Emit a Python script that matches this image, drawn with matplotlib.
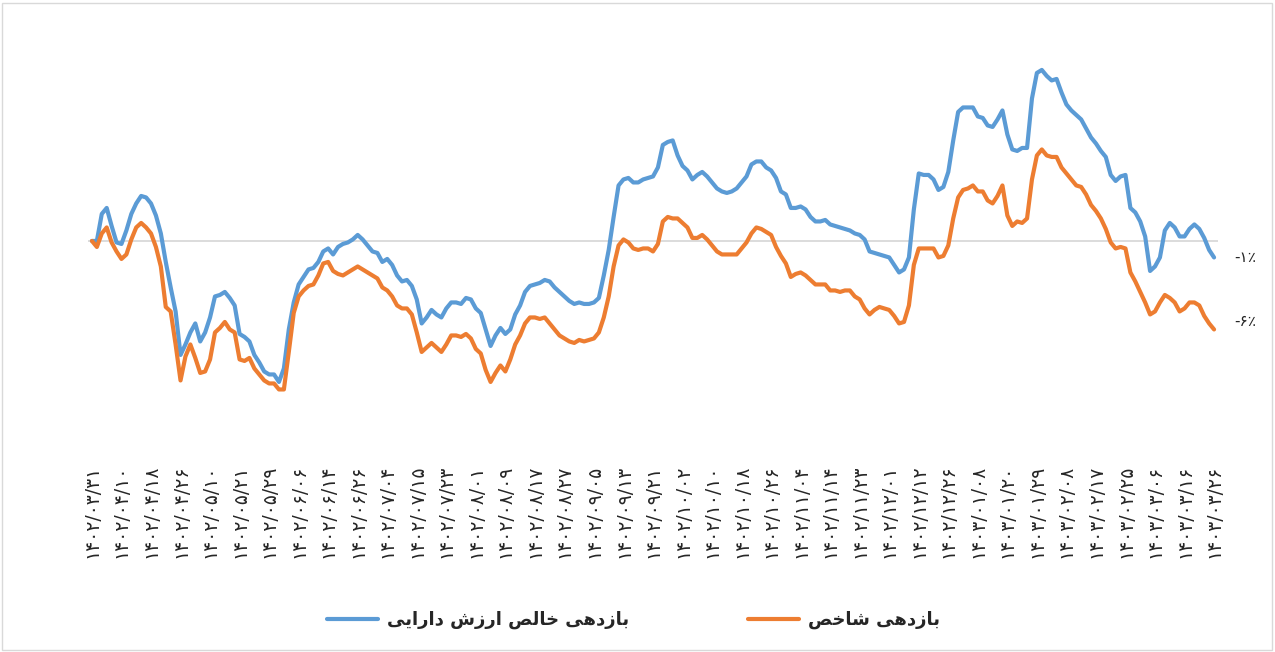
import matplotlib
matplotlib.use('Agg')
import matplotlib.pyplot as plt
from matplotlib.patches import Rectangle

# ---DATA--- (returns in percent, one value per trading day)
nav_return = [
    0.0, 0.0, 1.8, 2.2, 1.0, -0.1, -0.2, 0.7, 1.8, 2.5,
    3.0, 2.9, 2.5, 1.7, 0.5, -1.4, -3.1, -4.7, -7.6, -6.9,
    -6.1, -5.5, -6.7, -6.1, -5.1, -3.7, -3.6, -3.4, -3.8, -4.3,
    -6.2, -6.4, -6.7, -7.6, -8.1, -8.7, -8.9, -8.9, -9.4, -8.5,
    -5.9, -4.1, -2.9, -2.4, -1.9, -1.8, -1.4, -0.7, -0.5, -0.9,
    -0.4, -0.2, -0.1, 0.1, 0.4, 0.1, -0.3, -0.7, -0.8, -1.4,
    -1.2, -1.6, -2.3, -2.7, -2.6, -3.0, -3.9, -5.5, -5.1, -4.6,
    -4.9, -5.1, -4.5, -4.1, -4.1, -4.2, -3.8, -3.9, -4.5, -4.8,
    -5.9, -7.0, -6.3, -5.8, -6.2, -5.9, -4.9, -4.3, -3.4, -3.0,
    -2.9, -2.8, -2.6, -2.7, -3.1, -3.4, -3.7, -4.0, -4.2, -4.1,
    -4.2, -4.2, -4.1, -3.8, -2.3, -0.6, 1.6, 3.7, 4.1, 4.2,
    3.9, 3.9, 4.1, 4.2, 4.3, 4.9, 6.4, 6.6, 6.7, 5.7,
    5.0, 4.7, 4.1, 4.4, 4.6, 4.3, 3.9, 3.5, 3.3, 3.2,
    3.3, 3.5, 3.9, 4.3, 5.1, 5.3, 5.3, 4.9, 4.7, 4.2,
    3.3, 3.1, 2.2, 2.2, 2.3, 2.1, 1.6, 1.3, 1.3, 1.4,
    1.1, 1.0, 0.9, 0.8, 0.7, 0.5, 0.4, 0.1, -0.7, -0.8,
    -0.9, -1.0, -1.1, -1.6, -2.1, -1.9, -1.1, 2.1, 4.5, 4.4,
    4.4, 4.1, 3.4, 3.6, 4.6, 6.7, 8.6, 8.9, 8.9, 8.9,
    8.3, 8.2, 7.7, 7.6, 8.1, 8.7, 7.1, 6.1, 6.0, 6.2,
    6.2, 9.5, 11.2, 11.4, 11.0, 10.7, 10.8, 9.9, 9.1, 8.7,
    8.4, 8.1, 7.5, 6.9, 6.5, 6.0, 5.6, 4.4, 4.0, 4.3,
    4.4, 2.2, 1.9, 1.3, 0.3, -2.0, -1.7, -1.1, 0.7, 1.2,
    0.9, 0.3, 0.3, 0.8, 1.1, 0.8, 0.2, -0.6, -1.1,
]
index_return = [
    0.0, -0.4, 0.5, 0.9, -0.1, -0.7, -1.2, -0.9, 0.1, 0.9,
    1.2, 0.9, 0.5, -0.4, -1.7, -4.4, -4.7, -6.9, -9.3, -7.7,
    -6.9, -7.8, -8.8, -8.7, -7.9, -6.1, -5.8, -5.4, -5.9, -6.1,
    -7.9, -8.0, -7.8, -8.5, -8.9, -9.3, -9.5, -9.5, -9.9, -9.9,
    -7.4, -4.8, -3.7, -3.3, -3.0, -2.9, -2.3, -1.5, -1.4, -2.0,
    -2.2, -2.3, -2.1, -1.9, -1.7, -1.9, -2.1, -2.3, -2.5, -3.1,
    -3.3, -3.7, -4.3, -4.5, -4.5, -4.9, -6.1, -7.4, -7.1, -6.8,
    -7.1, -7.4, -6.9, -6.3, -6.3, -6.4, -6.2, -6.5, -7.2, -7.5,
    -8.6, -9.4, -8.8, -8.3, -8.7, -7.9, -6.9, -6.3, -5.5, -5.1,
    -5.1, -5.2, -5.1, -5.5, -5.9, -6.3, -6.5, -6.7, -6.8, -6.6,
    -6.7, -6.6, -6.5, -6.1, -5.1, -3.7, -1.7, -0.3, 0.1, -0.1,
    -0.5, -0.6, -0.5, -0.5, -0.7, -0.2, 1.3, 1.6, 1.5, 1.5,
    1.2, 0.9, 0.2, 0.2, 0.4, 0.1, -0.3, -0.7, -0.9, -0.9,
    -0.9, -0.9, -0.5, -0.1, 0.5, 0.9, 0.8, 0.6, 0.4, -0.4,
    -1.0, -1.5, -2.4, -2.2, -2.1, -2.3, -2.6, -2.9, -2.9, -2.9,
    -3.3, -3.3, -3.4, -3.3, -3.3, -3.7, -3.9, -4.5, -4.9, -4.6,
    -4.4, -4.5, -4.6, -5.0, -5.5, -5.4, -4.3, -1.6, -0.5, -0.5,
    -0.5, -0.5, -1.1, -1.0, -0.3, 1.5, 2.9, 3.4, 3.5, 3.7,
    3.3, 3.3, 2.7, 2.5, 3.0, 3.7, 1.7, 1.0, 1.3, 1.2,
    1.5, 4.1, 5.7, 6.1, 5.7, 5.6, 5.6, 4.9, 4.5, 4.1,
    3.7, 3.6, 3.1, 2.4, 2.0, 1.5, 0.8, -0.1, -0.5, -0.4,
    -0.5, -2.1, -2.7, -3.4, -4.1, -4.9, -4.7, -4.1, -3.6, -3.8,
    -4.1, -4.7, -4.5, -4.1, -4.1, -4.3, -5.0, -5.5, -5.9,
]
tick_labels = [
    '۱۴۰۲/۰۳/۳۱', '۱۴۰۲/۰۴/۱۰', '۱۴۰۲/۰۴/۱۸', '۱۴۰۲/۰۴/۲۶', '۱۴۰۲/۰۵/۱۰',
    '۱۴۰۲/۰۵/۲۱', '۱۴۰۲/۰۵/۲۹', '۱۴۰۲/۰۶/۰۶', '۱۴۰۲/۰۶/۱۴', '۱۴۰۲/۰۶/۲۶',
    '۱۴۰۲/۰۷/۰۴', '۱۴۰۲/۰۷/۱۵', '۱۴۰۲/۰۷/۲۳', '۱۴۰۲/۰۸/۰۱', '۱۴۰۲/۰۸/۰۹',
    '۱۴۰۲/۰۸/۱۷', '۱۴۰۲/۰۸/۲۷', '۱۴۰۲/۰۹/۰۵', '۱۴۰۲/۰۹/۱۳', '۱۴۰۲/۰۹/۲۱',
    '۱۴۰۲/۱۰/۰۲', '۱۴۰۲/۱۰/۱۰', '۱۴۰۲/۱۰/۱۸', '۱۴۰۲/۱۰/۲۶', '۱۴۰۲/۱۱/۰۴',
    '۱۴۰۲/۱۱/۱۴', '۱۴۰۲/۱۱/۲۳', '۱۴۰۲/۱۲/۰۱', '۱۴۰۲/۱۲/۱۲', '۱۴۰۲/۱۲/۲۶',
    '۱۴۰۳/۰۱/۰۸', '۱۴۰۳/۰۱/۲۰', '۱۴۰۳/۰۱/۲۹', '۱۴۰۳/۰۲/۰۸', '۱۴۰۳/۰۲/۱۷',
    '۱۴۰۳/۰۲/۲۵', '۱۴۰۳/۰۳/۰۶', '۱۴۰۳/۰۳/۱۶', '۱۴۰۳/۰۳/۲۶',
]
tick_step = 6
series_names = ['بازدهی خالص ارزش دارایی', 'بازدهی شاخص']
end_labels = ['-۱٪', '-۶٪']

# ---PERSIAN SHAPING--- (matplotlib draws no joined letters, so pick the forms by hand)
FORMS = {  # isolated, final, initial, medial
    'ا': ('\uFE8D', '\uFE8E', None, None),
    'ب': ('\uFE8F', '\uFE90', '\uFE91', '\uFE92'),
    'خ': ('\uFEA5', '\uFEA6', '\uFEA7', '\uFEA8'),
    'د': ('\uFEA9', '\uFEAA', None, None),
    'ر': ('\uFEAD', '\uFEAE', None, None),
    'ز': ('\uFEAF', '\uFEB0', None, None),
    'ش': ('\uFEB5', '\uFEB6', '\uFEB7', '\uFEB8'),
    'ص': ('\uFEB9', '\uFEBA', '\uFEBB', '\uFEBC'),
    'ل': ('\uFEDD', '\uFEDE', '\uFEDF', '\uFEE0'),
    'ه': ('\uFEE9', '\uFEEA', '\uFEEB', '\uFEEC'),
    'ی': ('\uFBFC', '\uFBFD', '\uFBFE', '\uFBFF'),
}

def shape_fa(text):
    out = []
    for i, ch in enumerate(text):
        if ch not in FORMS:
            out.append(ch)
            continue
        prev = text[i - 1] if i > 0 else ' '
        nxt = text[i + 1] if i + 1 < len(text) else ' '
        iso, fin, ini, med = FORMS[ch]
        join_prev = prev in FORMS and FORMS[prev][2] is not None
        join_next = nxt in FORMS and ini is not None
        if join_prev and join_next:
            out.append(med)
        elif join_prev:
            out.append(fin)
        elif join_next:
            out.append(ini)
        else:
            out.append(iso)
    return ''.join(reversed(out))

# ---PLOT---
W, H = 1275, 652
fig = plt.figure(figsize=(W / 100, H / 100), dpi=100)
ax = fig.add_axes([88 / W, 1 - 452 / H, 1130 / W, 402 / H])

colors = ['#5B9BD5', '#ED7D31']
x = list(range(len(nav_return)))
lines = []
for vals, c, name in zip([nav_return, index_return], colors, series_names):
    ln, = ax.plot(x, vals, color=c, lw=3.0, solid_joinstyle='round',
                  solid_capstyle='round', clip_on=False, label=shape_fa(name))
    lines.append(ln)

ax.axhline(0, color='#d9d9d9', lw=1.3, zorder=0)
ax.set_xlim(-0.8, len(x) - 1 + 0.8)
ax.set_ylim(-14.07, 12.73)

ax.set_xticks(range(0, len(x), tick_step))
ax.set_xticklabels(tick_labels, rotation=90, fontsize=13.5, color='#262626')
ax.tick_params(axis='x', length=0, pad=9)
ax.set_yticks([])
for s in ax.spines.values():
    s.set_visible(False)

# end of series labels
for vals, lab, dy in zip([nav_return, index_return], end_labels, [0, 8]):
    ax.annotate(lab, xy=(x[-1], vals[-1]), xytext=(20, dy), textcoords='offset pixels',
                ha='left', va='center', fontsize=11, color='#262626')

fig.legend(handles=lines, loc='center', bbox_to_anchor=(0.497, 1 - 620 / H), ncol=2,
           frameon=False, handlelength=2.8, handletextpad=0.5, columnspacing=6.6,
           prop={'size': 13, 'weight': 'bold'}, labelcolor='#262626')

fig.patches.append(Rectangle((2 / W, 2 / H), 1 - 5 / W, 1 - 5 / H, transform=fig.transFigure,
                             fill=False, edgecolor='#d9d9d9', lw=1))

fig.savefig('out.png', dpi=100)
